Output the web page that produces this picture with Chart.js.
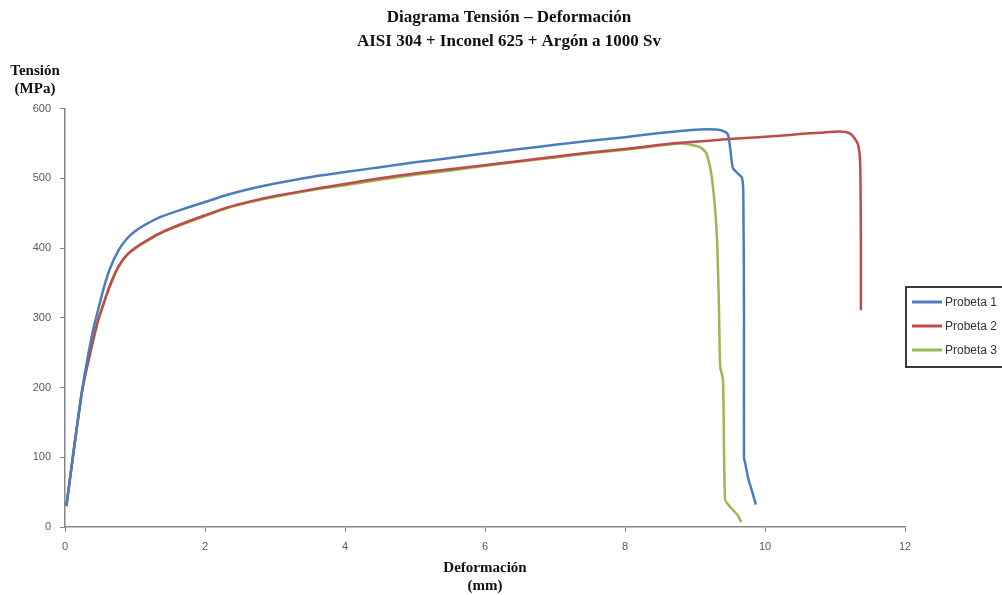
<!DOCTYPE html>
<html lang="es">
<head>
<meta charset="utf-8">
<title>Diagrama Tensión – Deformación</title>
<script src="https://cdn.jsdelivr.net/npm/chart.js@4.4.1/dist/chart.umd.min.js"></script>
<style>
    html, body { margin: 0; padding: 0; background: #fff; overflow: hidden; }
    #wrap { width: 1002px; height: 595px; position: relative; }
</style>
</head>
<body>
<div id="wrap"><canvas id="tensionChart"></canvas></div>
<script>
// Datos (deformación en mm, tensión en MPa)
const series = ['Probeta 1', 'Probeta 2', 'Probeta 3'];
const colors = ['#4a7ebb', '#be4b48', '#98b954'];

const p1X = [0.02, 0.11, 0.25, 0.40, 0.48, 0.56, 0.64, 0.76, 0.88, 1.0, 1.12, 1.35, 1.60, 2.0, 2.31, 2.65, 3.02, 3.64, 4.0, 4.5, 5.0, 5.5, 5.93, 6.5, 7.0, 7.5, 8.0, 8.5, 8.79, 9.07, 9.3, 9.4, 9.47, 9.5, 9.54, 9.6, 9.67, 9.69, 9.70, 9.70, 9.72, 9.76, 9.81, 9.87];
const p1Y = [30, 100, 200, 282, 314, 345, 370, 396, 413, 424, 432, 444, 453, 466, 476, 485, 493, 504, 509, 516, 523, 529, 535, 542, 548, 554, 559, 565, 568, 570, 570, 568, 563, 545, 515, 508, 501, 480, 300, 100, 90, 70, 53, 32];

const p2X = [0.02, 0.11, 0.25, 0.45, 0.52, 0.64, 0.76, 0.88, 1.0, 1.12, 1.35, 1.60, 2.0, 2.31, 2.65, 3.02, 3.64, 4.0, 4.5, 5.0, 5.5, 5.93, 6.5, 7.0, 7.5, 8.0, 8.5, 8.79, 9.2, 9.6, 10.21, 10.5, 10.79, 11.07, 11.2, 11.26, 11.33, 11.36, 11.37, 11.37];
const p2Y = [30, 98, 198, 288, 311, 346, 373, 390, 400, 408, 421, 432, 447, 458, 467, 475, 486, 492, 500, 507, 513, 518, 525, 531, 537, 542, 548, 551, 554, 557, 561, 563.5, 565.5, 567, 565, 560, 548, 520, 400, 311];

const p3X = [0.02, 0.11, 0.25, 0.45, 0.52, 0.64, 0.76, 0.88, 1.0, 1.12, 1.35, 1.60, 2.0, 2.31, 2.65, 3.02, 3.64, 4.0, 4.5, 5.0, 5.5, 5.93, 6.5, 7.0, 7.5, 8.0, 8.5, 8.79, 9.04, 9.12, 9.17, 9.24, 9.31, 9.34, 9.36, 9.40, 9.43, 9.50, 9.61, 9.66];
const p3Y = [30, 98, 198, 288, 311, 345, 372, 389, 399, 407, 420, 431, 446, 457, 466, 474, 485, 490, 498, 505, 511, 517, 524, 530, 536, 541, 547, 550, 546, 541, 534, 502, 422, 326, 230, 211, 39, 29, 17, 7];

const xTicks = [0, 2, 4, 6, 8, 10, 12];
const yTicks = [0, 100, 200, 300, 400, 500, 600];

function toPoints(xs, ys) {
    return xs.map((x, i) => ({ x: x, y: ys[i] }));
}

const pointSets = [toPoints(p1X, p1Y), toPoints(p2X, p2Y), toPoints(p3X, p3Y)];

// Título del eje Y (horizontal, arriba a la izquierda) y leyenda con marco
const extras = {
    id: 'extras',
    afterDraw(chart) {
        const ctx = chart.ctx;
        ctx.save();
        ctx.fillStyle = '#111';
        ctx.font = 'bold 15px "Liberation Serif", serif';
        ctx.textAlign = 'center';
        ctx.textBaseline = 'middle';
        ctx.fillText('Tensión', 35, 71);
        ctx.fillText('(MPa)', 35, 89);

        // leyenda
        const lx = 906, ly = 287;
        ctx.strokeStyle = '#3a3a3a';
        ctx.lineWidth = 2;
        ctx.strokeRect(lx, ly, 110, 80);
        ctx.font = '12px "Liberation Sans", sans-serif';
        ctx.textAlign = 'left';
        chart.data.datasets.forEach((ds, i) => {
            const y = ly + 15 + i * 24;
            ctx.strokeStyle = ds.borderColor;
            ctx.lineWidth = 3;
            ctx.beginPath();
            ctx.moveTo(lx + 6, y);
            ctx.lineTo(lx + 36, y);
            ctx.stroke();
            ctx.fillStyle = '#333';
            ctx.fillText(ds.label, lx + 39, y + 1);
        });
        ctx.restore();
    }
};

new Chart(document.getElementById('tensionChart').getContext('2d'), {
    type: 'scatter',
    data: {
        datasets: series.map((name, i) => ({
            label: name,
            data: pointSets[i],
            showLine: true,
            borderColor: colors[i],
            backgroundColor: colors[i],
            borderWidth: 2.5,
            pointRadius: 0,
            tension: 0.2,
            fill: false
        }))
    },
    options: {
        responsive: true,
        maintainAspectRatio: false,
        animation: false,
        layout: {
            padding: { left: 16, right: 0, top: 0, bottom: 0 }
        },
        plugins: {
            legend: { display: false },
            tooltip: { enabled: false },
            title: {
                display: true,
                text: ['Diagrama Tensión – Deformación', 'AISI 304 + Inconel 625 + Argón a 1000 Sv'],
                color: '#111',
                font: { family: '"Liberation Serif", serif', size: 17, weight: 'bold', lineHeight: 1.4 },
                padding: { top: 6, bottom: 55 }
            }
        },
        scales: {
            x: {
                type: 'linear',
                min: 0,
                max: 12,
                afterBuildTicks: function(scale) {
                    scale.ticks = xTicks.map(v => ({ value: v }));
                },
                afterFit: function(scale) { scale.height = 68; },
                grid: { display: true, drawOnChartArea: false, drawTicks: true, tickLength: 5, color: '#868686' },
                border: { display: true, color: '#868686', width: 1.5 },
                ticks: { color: '#595959', font: { family: '"Liberation Sans", sans-serif', size: 11 }, padding: 8 },
                title: {
                    display: true,
                    text: ['Deformación', '(mm)'],
                    color: '#111',
                    font: { family: '"Liberation Serif", serif', size: 15, weight: 'bold', lineHeight: 1.2 },
                    padding: { top: 0, bottom: 0 }
                }
            },
            y: {
                type: 'linear',
                min: 0,
                max: 600,
                afterBuildTicks: function(scale) {
                    scale.ticks = yTicks.map(v => ({ value: v }));
                },
                afterFit: function(scale) { scale.width = 49; },
                grid: { display: true, drawOnChartArea: false, drawTicks: true, tickLength: 5, color: '#868686' },
                border: { display: true, color: '#868686', width: 1.5 },
                ticks: { color: '#595959', font: { family: '"Liberation Sans", sans-serif', size: 11 }, padding: 9 }
            },
            // eje vacío a la derecha: deja sitio para la leyenda
            yRight: {
                type: 'linear',
                position: 'right',
                min: 0,
                max: 600,
                afterFit: function(scale) { scale.width = 97; },
                grid: { display: false },
                border: { display: false },
                ticks: { display: false }
            }
        }
    },
    plugins: [extras]
});
</script>
</body>
</html>
